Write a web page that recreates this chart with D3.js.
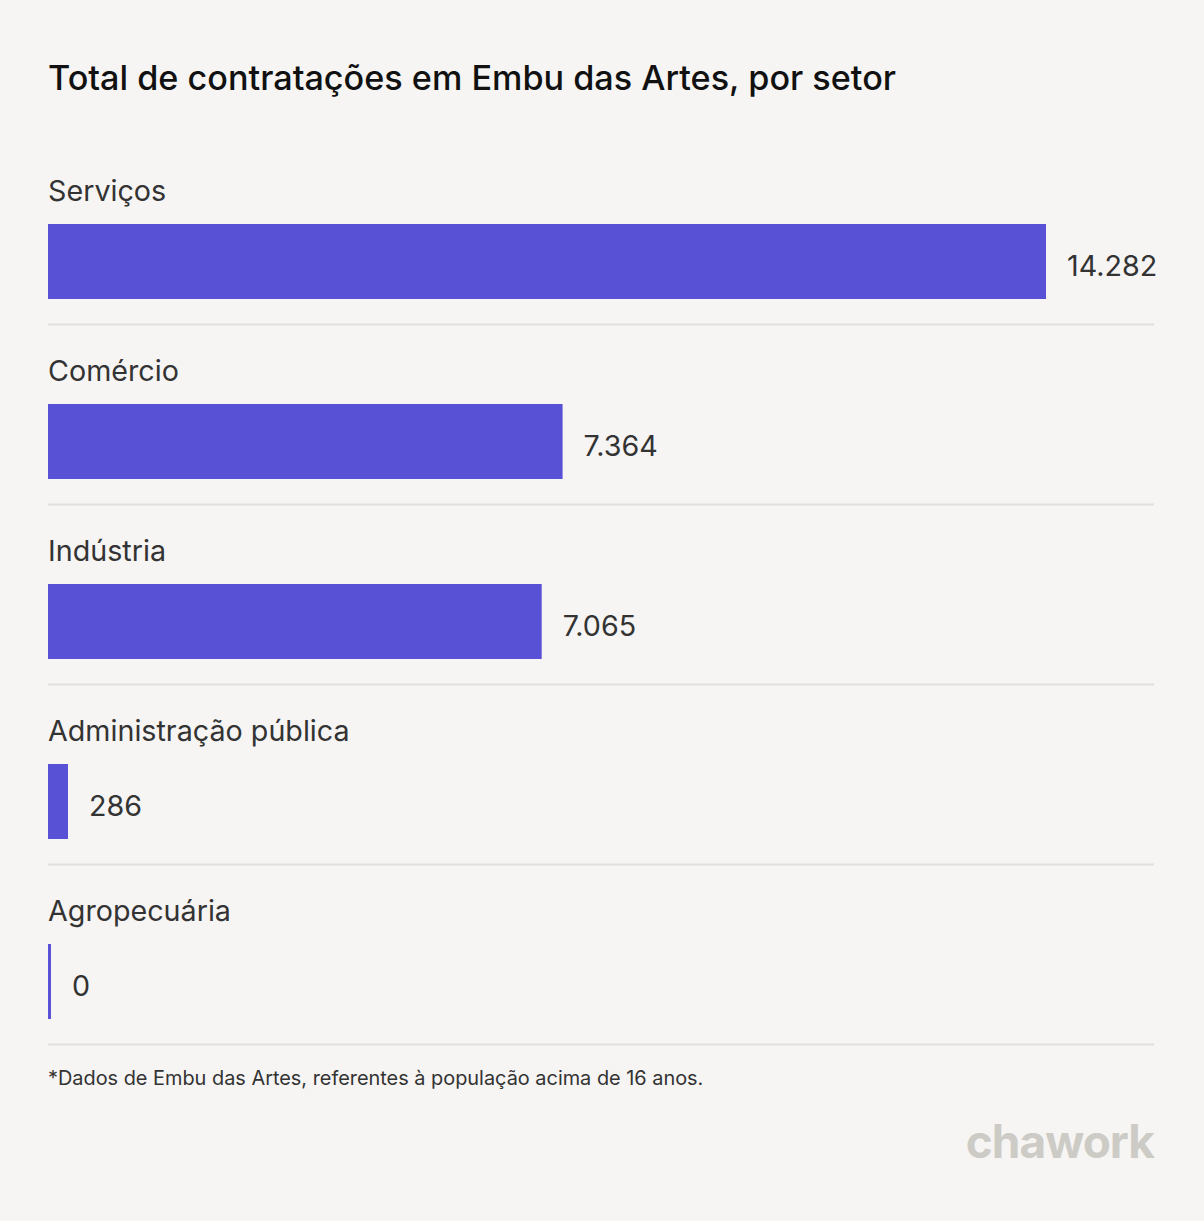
<!DOCTYPE html>
<html><head><meta charset="utf-8">
<script src="https://cdn.jsdelivr.net/npm/d3@7"></script>
<style>
html,body{margin:0;padding:0;background:#f6f5f3;}
svg{display:block;font-family:Inter,"Noto Sans",sans-serif;}
</style></head>
<body><svg id="c" width="1204" height="1221"></svg>
<script>
const categories = ["Serviços","Comércio","Indústria","Administração pública","Agropecuária"];
const values = [14282, 7364, 7065, 286, 0];
const valueLabels = ["14.282","7.364","7.065","286","0"];
const title = "Total de contratações em Embu das Artes, por setor";
const footnote = "*Dados de Embu das Artes, referentes à população acima de 16 anos.";

const svg = d3.select("#c");
svg.append("rect").attr("width",1204).attr("height",1221).attr("fill","#f6f5f3");

svg.append("text").attr("x",48).attr("y",90).attr("font-size",34.2).attr("font-weight",500)
  .attr("fill","#111").text(title);

const x = d3.scaleLinear().domain([0, d3.max(values)]).range([48, 1046]);
const y = d3.scaleBand().domain(categories).range([144.5, 1044.5]).paddingInner(0);

const rows = svg.selectAll("g.row").data(categories).join("g").attr("class","row")
  .attr("transform", d => `translate(0,${y(d)})`);

rows.append("text").attr("x",48).attr("y",56.5).attr("font-size",28.7).attr("fill","#333")
  .text(d => d);

rows.append("rect").attr("x",x(0)).attr("y",79.5).attr("height",75)
  .attr("width",(d,i) => Math.max(3, x(values[i]) - x(0)))
  .attr("fill","#5851d6");

rows.append("text")
  .attr("x",(d,i) => Math.max(x(0)+3, x(values[i])) + 21)
  .attr("y",131.5).attr("font-size",28.7).attr("fill","#333")
  .text((d,i) => valueLabels[i]);

rows.append("line").attr("x1",48).attr("x2",1154).attr("y1",180).attr("y2",180)
  .attr("stroke","#e2e0dd").attr("stroke-width",2);

svg.append("text").attr("x",48).attr("y",1085).attr("font-size",19.9).attr("fill","#333")
  .text(footnote);

svg.append("text").attr("x",1154).attr("y",1158).attr("text-anchor","end")
  .attr("font-size",46).attr("font-weight",700).attr("letter-spacing",-1)
  .attr("fill","#cdcbc6").text("chawork");
</script></body></html>
